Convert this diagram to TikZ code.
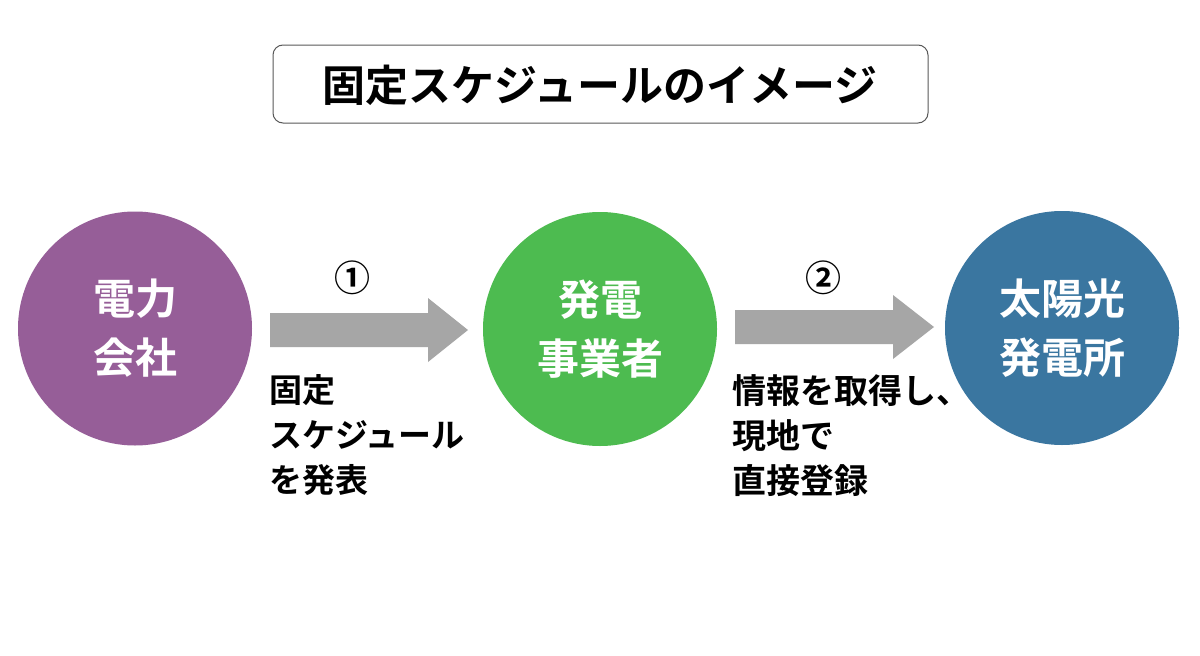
\documentclass[tikz,border=0pt]{standalone}
\usepackage{fontspec}
\setmainfont{Noto Sans CJK JP}[BoldFont={Noto Sans CJK JP Bold}]
\definecolor{cpurple}{RGB}{150,94,152}
\definecolor{cgreen}{RGB}{77,187,80}
\definecolor{cblue}{RGB}{58,118,160}
\definecolor{cgray}{RGB}{166,166,166}
\begin{document}
\begin{tikzpicture}[x=1pt,y=-1pt,
  circ/.style={circle,minimum size=234pt,inner sep=0pt,text=white,align=center,
    font=\bfseries\fontsize{42}{59}\selectfont},
  lbl/.style={anchor=north west,inner sep=0pt,align=left,
    font=\bfseries\fontsize{33}{45}\selectfont},
  num/.style={inner sep=0pt,font=\bfseries\fontsize{36}{36}\selectfont},
  bigarrow/.style={fill=cgray,draw=none}]
\useasboundingbox (0,0) rectangle (1200,656);
\fill[white] (0,0) rectangle (1200,656);
% title
\draw[rounded corners=10pt,draw=black!65,line width=1pt] (273,45) rectangle (928,123);
\node[inner sep=0pt,font=\bfseries\fontsize{43}{43}\selectfont] (title) at (600,85) {固定スケジュールのイメージ};
% circles
\node[circ,fill=cpurple] (a) at (135,328.5) {電力\\会社};
\node[circ,fill=cgreen] (b) at (600,329) {発電\\事業者};
\node[circ,fill=cblue] (c) at (1062,328) {太陽光\\発電所};
% arrow 1
\coordinate (p1) at (270,330);
\fill[bigarrow] (p1) ++(0,-17) -- ++(158,0) -- ++(0,-15) -- (468,330) -- (428,362) -- (428,347) -- (270,347) -- cycle;
\node[num] (n1) at (352,278) {①};
\node[lbl] (t1) at (269,374) {固定\\スケジュール\\を発表};
% arrow 2
\coordinate (p2) at (735,327);
\fill[bigarrow] (p2) ++(0,-17) -- ++(158,0) -- ++(0,-15) -- (934,327) -- (893,359) -- (893,344) -- (735,344) -- cycle;
\node[num] (n2) at (823,278) {②};
\node[lbl,font=\bfseries\fontsize{34}{45}\selectfont] (t2) at (732,374) {情報を取得し、\\現地で\\直接登録};
\end{tikzpicture}
\end{document}
